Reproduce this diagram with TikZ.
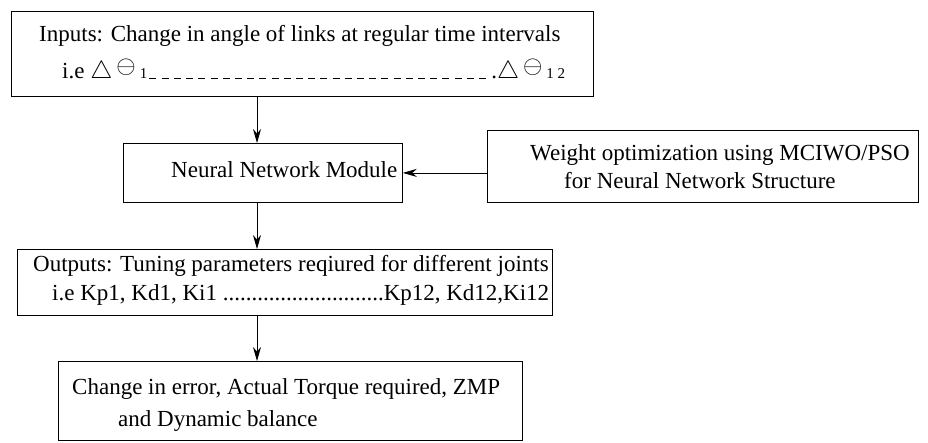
\documentclass[tikz,border=0pt]{standalone}
\usepackage{fontspec}
\setmainfont{Liberation Serif}
\usepackage{tikz}
\usetikzlibrary{calc,arrows.meta}
\tikzset{
  box/.style={draw, line width=0.8pt, anchor=north west, inner sep=0pt},
  txt/.style={anchor=west, inner sep=0pt, font=\fontsize{23}{28}\selectfont},
  arr/.style={draw, line width=0.8pt, -{Stealth[length=14pt,width=8pt]}}
}
\newcommand{\dth}[1]{$\triangle$\hspace{4pt}\raisebox{5pt}{$\ominus$}\hspace{4pt}{\fontsize{15}{15}\selectfont #1}}
\newcommand{\dashrun}[1]{\hbox to #1{\xleaders\hbox{\rule{7pt}{0.8pt}\hspace{5pt}}\hfill}}

\begin{document}
\begin{tikzpicture}[x=1pt,y=-1pt]
  \useasboundingbox (0,0) rectangle (928,442);
  \coordinate (ax) at (257,0);
  % boxes
  \node[box, minimum width=582pt, minimum height=85pt] (inputs) at (11,11) {};
  \node[box, minimum width=279pt, minimum height=59pt] (nnm) at (123,143) {};
  \node[box, minimum width=431pt, minimum height=72pt] (wopt) at (487,130) {};
  \node[box, minimum width=535pt, minimum height=66pt] (outputs) at (17,249) {};
  \node[box, minimum width=464pt, minimum height=79pt] (result) at (58,361) {};
  % texts
  \node[txt] (inputsA) at (39,36) {Inputs: Change in angle of links at regular time intervals};
  \node[txt] (inputsB) at (62,71) {i.e \dth{1}\hspace{2pt}\dashrun{342pt}.\dth{1 2}};
  \node[txt] (nnmT) at (171,170) {Neural Network Module};
  \node[txt, align=left] (woptT) at (530,167)
    {Weight optimization using MCIWO/PSO\\\hspace*{34pt}for Neural Network Structure};
  \node[txt] (outputsA) at (33,266) {Outputs: Tuning parameters reqiured for different joints};
  \node[txt] (outputsB) at (52,295) {i.e Kp1, Kd1, Ki1 ............................Kp12, Kd12,Ki12};
  \node[txt] (resultA) at (72,389) {Change in error, Actual Torque required, ZMP};
  \node[txt] (resultB) at (118,421) {and Dynamic balance};
  % connectors
  \draw[arr] (inputs.south -| ax) -- (nnm.north -| ax);
  \draw[arr] (wopt.west |- nnm.east) -- (nnm.east);
  \draw[arr] (nnm.south -| ax) -- (outputs.north -| ax);
  \draw[arr] (outputs.south -| ax) -- (result.north -| ax);
\end{tikzpicture}
\end{document}
